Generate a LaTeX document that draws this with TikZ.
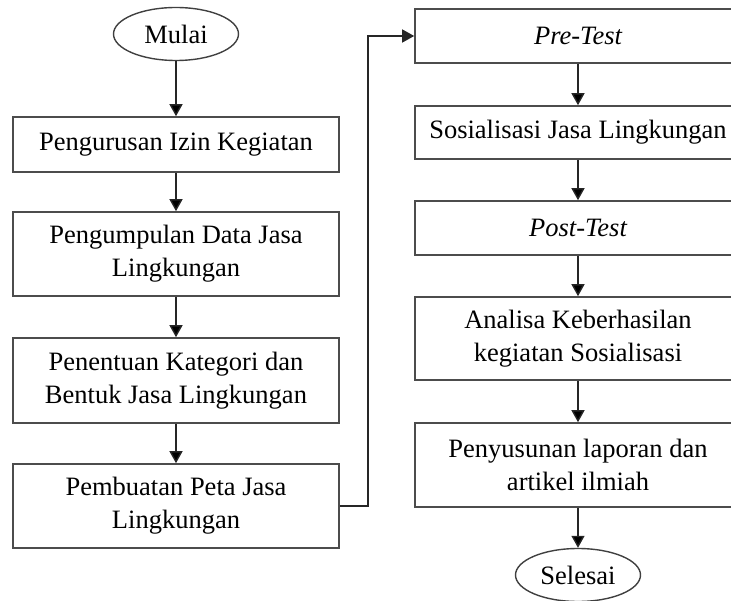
\documentclass[tikz,border=0pt]{standalone}
\usepackage{fontspec}
\setmainfont{Liberation Serif}
\usetikzlibrary{shapes.geometric,arrows.meta}
\begin{document}
\begin{tikzpicture}
	[x=1pt,y=1pt,
	every node/.style={font=\fontsize{26.5}{33}\selectfont,align=center,inner sep=0pt},
	terminal/.style={ellipse,draw=black!75,line width=1.4pt,minimum width=125pt,minimum height=53pt},
	stepbox/.style={rectangle,draw=black!70,line width=1.6pt,minimum width=326pt},
	flow/.style={-{Triangle[length=12pt,width=13pt]},draw=black!85,line width=1.4pt}]
	\useasboundingbox (0,0) rectangle (731,-601);
	\node[terminal] (mulai) at (176,-34) {Mulai};
	\node[stepbox,minimum height=55pt] (izin) at (176,-144.5) {Pengurusan Izin Kegiatan};
	\node[stepbox,minimum height=84pt] (data) at (176,-254) {Pengumpulan Data Jasa\\Lingkungan};
	\node[stepbox,minimum height=85pt] (kategori) at (176,-380.5) {Penentuan Kategori dan\\Bentuk Jasa Lingkungan};
	\node[stepbox,minimum height=84pt] (peta) at (176,-506) {Pembuatan Peta Jasa\\Lingkungan};
	\node[stepbox,minimum height=54pt] (pretest) at (578,-36) {\itshape Pre-Test};
	\node[stepbox,minimum height=53pt] (sosial) at (578,-132.5) {Sosialisasi Jasa Lingkungan};
	\node[stepbox,minimum height=54pt] (posttest) at (578,-228) {\itshape Post-Test};
	\node[stepbox,minimum height=83pt] (analisa) at (578,-338.5) {Analisa Keberhasilan\\kegiatan Sosialisasi};
	\node[stepbox,minimum height=84pt] (laporan) at (578,-465) {Penyusunan laporan dan\\artikel ilmiah};
	\node[terminal] (selesai) at (578,-575) {Selesai};
	\path[flow]
	(mulai) edge (izin)
	(izin) edge (data)
	(data) edge (kategori)
	(kategori) edge (peta)
	(pretest) edge (sosial)
	(sosial) edge (posttest)
	(posttest) edge (analisa)
	(analisa) edge (laporan)
	(laporan) edge (selesai);
	\draw[flow] (peta.east) -- ++(28,0) |- (pretest.west);
\end{tikzpicture}
\end{document}
